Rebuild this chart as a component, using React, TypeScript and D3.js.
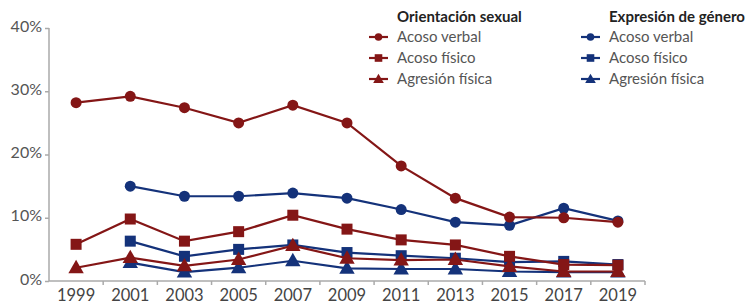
import React, { useEffect, useRef } from "react";
import * as d3 from "d3";

const WIDTH = 748;
const HEIGHT = 305;

const years = ["1999", "2001", "2003", "2005", "2007", "2009", "2011", "2013", "2015", "2017", "2019"];
const yTicks = [0, 10, 20, 30, 40];

// Orientación sexual
const osVerbal = [28.2, 29.2, 27.4, 25.0, 27.8, 25.0, 18.2, 13.1, 10.1, 10.0, 9.3];
const osFisico = [5.8, 9.8, 6.3, 7.8, 10.4, 8.2, 6.5, 5.7, 3.9, 2.6, 2.5];
const osAgresion = [2.1, 3.7, 2.4, 3.4, 5.6, 3.6, 3.3, 3.4, 2.3, 1.5, 1.5];

// Expresión de género (sin dato en 1999)
const egVerbal = [null, 15.0, 13.4, 13.4, 13.9, 13.1, 11.3, 9.3, 8.8, 11.5, 9.5];
const egFisico = [null, 6.3, 3.9, 5.0, 5.7, 4.5, 4.0, 3.6, 3.0, 3.1, 2.6];
const egAgresion = [null, 2.9, 1.4, 2.1, 3.2, 2.0, 1.9, 1.9, 1.5, 1.4, 1.4];

const RED = "#841616";
const BLUE = "#14327a";

type Serie = { name: string; values: (number | null)[]; color: string; shape: string };

const series: Serie[] = [
  { name: "Acoso verbal", values: osVerbal, color: RED, shape: "circle" },
  { name: "Acoso físico", values: osFisico, color: RED, shape: "square" },
  { name: "Agresión física", values: osAgresion, color: RED, shape: "triangle" },
  { name: "Acoso verbal", values: egVerbal, color: BLUE, shape: "circle" },
  { name: "Acoso físico", values: egFisico, color: BLUE, shape: "square" },
  { name: "Agresión física", values: egAgresion, color: BLUE, shape: "triangle" },
];

const FONT = "Lato, 'Open Sans', sans-serif";

export default function App() {
  const svgRef = useRef<SVGSVGElement>(null);

  useEffect(() => {
    const svg = d3.select(svgRef.current);
    svg.selectAll("*").remove();

    const x = d3.scaleBand<string>().domain(years).range([49, 645]).padding(0);
    const y = d3.scaleLinear().domain([0, 40]).range([281, 28]);
    const cx = (yr: string) => (x(yr) || 0) + x.bandwidth() / 2;

    // y axis
    const yAxis = svg.append("g").attr("transform", "translate(49,0)")
      .call(d3.axisLeft(y).tickValues(yTicks).tickSize(4).tickFormat(d => `${d}%`));
    yAxis.select(".domain").attr("stroke", "#aaa").attr("stroke-width", 1.5).attr("d", `M0,${y(40)}V${y(0)}`);
    yAxis.selectAll(".tick line").attr("stroke", "#aaa").attr("stroke-width", 1.5);
    yAxis.selectAll(".tick text").attr("fill", "#555").attr("font-size", 16)
      .attr("font-family", FONT).attr("x", -7).attr("dy", "0.2em");

    // x axis
    const xAxis = svg.append("g").attr("transform", "translate(0,281)")
      .call(d3.axisBottom(x).tickSize(0).tickPadding(8));
    xAxis.select(".domain").attr("stroke", "#aaa").attr("stroke-width", 1.5).attr("d", "M49,0H645");
    xAxis.selectAll(".tick text").attr("fill", "#444").attr("font-size", 16.5).attr("font-family", FONT);
    const edges = years.map(yr => (x(yr) || 0) + x.bandwidth());
    xAxis.selectAll(".edge").data(edges).enter().append("line")
      .attr("x1", d => d).attr("x2", d => d).attr("y1", 0).attr("y2", 4)
      .attr("stroke", "#aaa").attr("stroke-width", 1.5);

    const drawMarker = (g: d3.Selection<any, any, any, any>, shape: string, color: string, px: number, py: number, s: number) => {
      if (shape === "circle") {
        g.append("circle").attr("cx", px).attr("cy", py).attr("r", s).attr("fill", color);
      } else if (shape === "square") {
        g.append("rect").attr("x", px - s).attr("y", py - s).attr("width", s * 2).attr("height", s * 2).attr("fill", color);
      } else {
        const sym = d3.symbol().type(d3.symbolTriangle).size(s * s * 3.4);
        g.append("path").attr("d", sym()).attr("transform", `translate(${px},${py + 1})`).attr("fill", color);
      }
    };

    const line = d3.line<{ yr: string; v: number | null }>()
      .defined(d => d.v !== null)
      .x(d => cx(d.yr))
      .y(d => y(d.v as number));

    // draw in reverse so the red verbal line sits over blue where they cross
    [...series].reverse().forEach(s => {
      const pts = years.map((yr, i) => ({ yr, v: s.values[i] }));
      const g = svg.append("g");
      g.append("path").datum(pts).attr("d", line).attr("fill", "none")
        .attr("stroke", s.color).attr("stroke-width", 2.2);
      pts.filter(p => p.v !== null).forEach(p => {
        drawMarker(g, s.shape, s.color, cx(p.yr), y(p.v as number), 5.5);
      });
    });

    // legend
    const legendGroups = [
      { title: "Orientación sexual", x: 369, items: series.slice(0, 3) },
      { title: "Expresión de género", x: 581, items: series.slice(3) },
    ];
    legendGroups.forEach(lg => {
      const g = svg.append("g");
      g.append("text").attr("x", lg.x + 28).attr("y", 22).text(lg.title)
        .attr("font-family", FONT).attr("font-size", 15).attr("font-weight", "bold").attr("fill", "#222");
      lg.items.forEach((it, i) => {
        const ly = 37 + i * 21;
        g.append("line").attr("x1", lg.x).attr("x2", lg.x + 19).attr("y1", ly).attr("y2", ly)
          .attr("stroke", it.color).attr("stroke-width", 2.2);
        drawMarker(g, it.shape, it.color, lg.x + 9.5, ly, 3.8);
        g.append("text").attr("x", lg.x + 28).attr("y", ly + 5).text(it.name)
          .attr("font-family", FONT).attr("font-size", 15).attr("fill", "#555");
      });
    });
  }, []);

  return (
    <svg ref={svgRef} width={WIDTH} height={HEIGHT}
      style={{ position: "absolute", left: 0, top: 0, background: "#fff" }} />
  );
}
